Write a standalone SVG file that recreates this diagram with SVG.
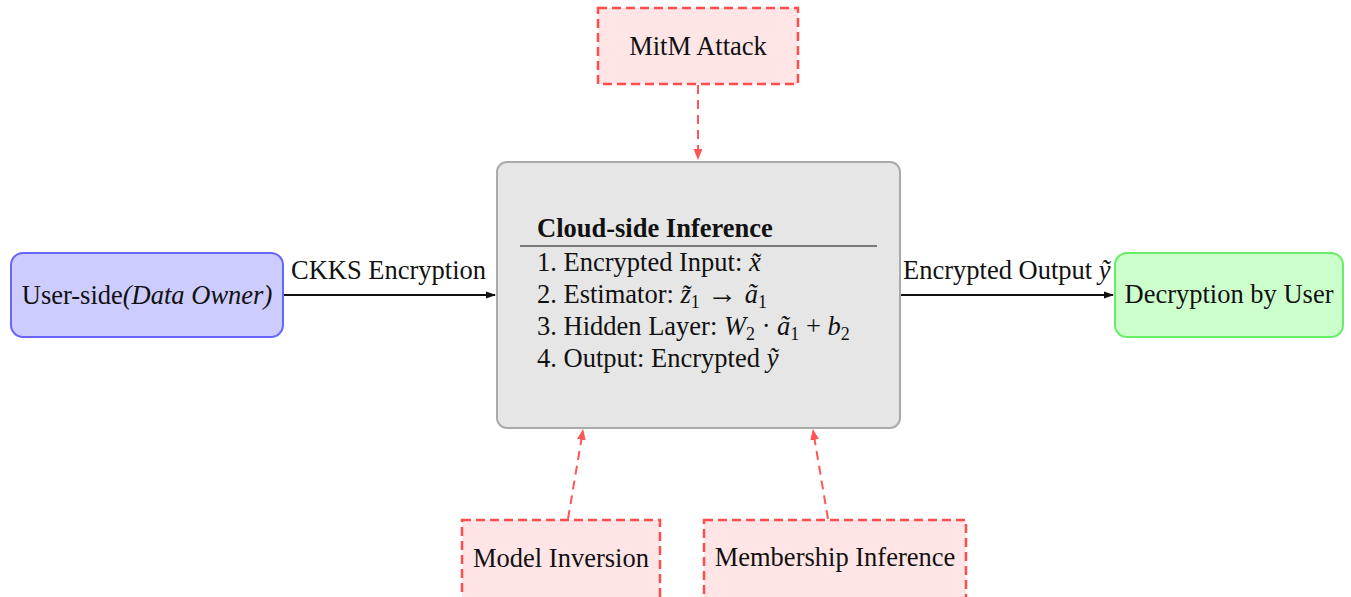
<svg xmlns="http://www.w3.org/2000/svg" width="1351" height="597" viewBox="0 0 1351 597">
<defs>
<style>
text{font-family:"Liberation Serif","Times New Roman",serif;font-size:26.5px;fill:#111}
.attack{fill:#ffe5e5;stroke:#ff4d4d;stroke-width:2.5;stroke-dasharray:9,5}
.dash{stroke:#ff5555;stroke-width:2;stroke-dasharray:9,6;fill:none}
.solid{stroke:#111;stroke-width:2;fill:none}
.m{font-style:italic}
.sub{font-size:18px}
.arr{font-size:30px}
</style>
<marker id="ab" viewBox="0 0 10 10" refX="9" refY="5" markerWidth="12" markerHeight="10" markerUnits="userSpaceOnUse" orient="auto"><path d="M0,1.5 L10,5 L0,8.5 z" fill="#111"/></marker>
<marker id="ar" viewBox="0 0 10 10" refX="9" refY="5" markerWidth="11" markerHeight="11" markerUnits="userSpaceOnUse" orient="auto"><path d="M0,1 L10,5 L0,9 z" fill="#ff5555"/></marker>
</defs>
<g id="connectors">
<line class="solid" x1="283" y1="295" x2="495" y2="295" marker-end="url(#ab)"/>
<text x="291" y="279">CKKS Encryption</text>
<line class="solid" x1="900" y1="295" x2="1113" y2="295" marker-end="url(#ab)"/>
<text x="903" y="279">Encrypted Output <tspan class="m">ỹ</tspan></text>
<line class="dash" x1="698" y1="85" x2="698" y2="159" marker-end="url(#ar)"/>
<line class="dash" x1="568" y1="519" x2="583" y2="430" marker-end="url(#ar)"/>
<line class="dash" x1="828" y1="519" x2="813" y2="430" marker-end="url(#ar)"/>
</g>
<g id="mitm">
<rect class="attack" x="598" y="8" width="200" height="76"/>
<text x="698" y="55" text-anchor="middle">MitM Attack</text>
</g>
<g id="cloud">
<rect x="497" y="162" width="403" height="266" rx="10" fill="#e6e6e6" stroke="#aaaaaa" stroke-width="2"/>
<text x="537" y="237" font-weight="bold">Cloud-side Inference</text>
<line x1="520" y1="246" x2="877" y2="246" stroke="#555" stroke-width="1.5"/>
<text x="537" y="271">1. Encrypted Input: <tspan class="m">x̃</tspan></text>
<text x="537" y="303">2. Estimator: <tspan class="m">z̃</tspan><tspan class="sub" dy="5">1</tspan><tspan class="arr" dy="-5"> → </tspan><tspan class="m">ã</tspan><tspan class="sub" dy="5">1</tspan></text>
<text x="537" y="335">3. Hidden Layer: <tspan class="m">W</tspan><tspan class="sub" dy="5">2</tspan><tspan dy="-5"> · </tspan><tspan class="m">ã</tspan><tspan class="sub" dy="5">1</tspan><tspan dy="-5"> + </tspan><tspan class="m">b</tspan><tspan class="sub" dy="5">2</tspan></text>
<text x="537" y="367">4. Output: Encrypted <tspan class="m">ỹ</tspan></text>
</g>
<g id="user">
<rect x="11" y="253" width="272" height="84" rx="12" fill="#ccccff" stroke="#6666ff" stroke-width="2"/>
<text x="147" y="304" text-anchor="middle">User-side<tspan class="m">(Data Owner)</tspan></text>
</g>
<g id="decrypt">
<rect x="1115" y="253" width="228" height="84" rx="12" fill="#ccffcc" stroke="#66ee66" stroke-width="2"/>
<text x="1229" y="303" text-anchor="middle">Decryption by User</text>
</g>
<g id="model-inversion">
<rect class="attack" x="462" y="520" width="198" height="90"/>
<text x="561" y="567" text-anchor="middle">Model Inversion</text>
</g>
<g id="membership">
<rect class="attack" x="704" y="520" width="262" height="90"/>
<text x="835" y="566" text-anchor="middle">Membership Inference</text>
</g>
</svg>
